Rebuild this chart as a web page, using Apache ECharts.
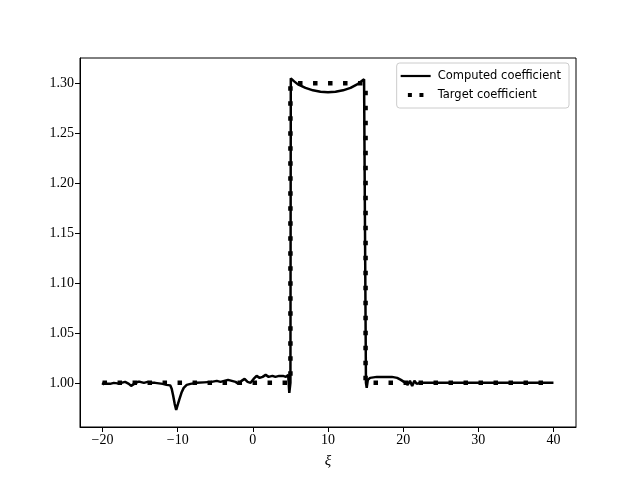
<!DOCTYPE html>
<html><head><meta charset="utf-8">
<script src="https://cdn.jsdelivr.net/npm/echarts@6/dist/echarts.min.js"></script>
<style>html,body{margin:0;padding:0;background:#fff}#c{width:640px;height:480px}</style>
</head><body><div id="c"></div>
<script>
const xTicks = [-20, -10, 0, 10, 20, 30, 40];
const yTicks = [1.00, 1.05, 1.10, 1.15, 1.20, 1.25, 1.30];
const computedXi = [-20,-19.8,-19.5,-19,-18.5,-18,-17.5,-17,-16.5,-16.2,-15.8,-15.3,-15,-14.5,-14,-13.5,-13,-12.5,-12,-11.5,-11,-10.8,-10.6,-10.4,-10.2,-10.0,-9.8,-9.5,-9.2,-8.8,-8.3,-7.5,-6.5,-5.5,-4.8,-4.3,-3.8,-3.3,-2.8,-2.3,-1.9,-1.5,-1.1,-0.7,-0.3,0.1,0.5,0.9,1.3,1.7,2.1,2.6,3.0,3.5,4.0,4.4,4.7,4.85,5.0,5.05,5.5,6,7,8,9,10,11,12,13,14,14.8,15.0,15.05,15.15,15.3,15.6,16.5,17.5,18.5,19.2,19.7,20.1,20.3,20.6,20.9,21.2,21.5,21.8,22.2,23,25,28,31,34,37,40];
const computedVal = [0.998,1.001,0.999,0.999,1.000,0.9995,1.000,1.001,0.999,0.997,0.999,1.001,1.001,1.000,1.001,1.000,1.000,0.9995,0.999,0.998,0.9975,0.994,0.987,0.979,0.973,0.975,0.983,0.990,0.995,0.998,0.999,1.000,1.0005,1.001,1.002,1.001,1.002,1.003,1.002,1.001,0.999,1.002,1.004,1.001,1.000,1.004,1.007,1.005,1.006,1.008,1.006,1.007,1.006,1.007,1.007,1.006,1.008,0.990,1.0,1.305,1.302,1.299,1.2955,1.293,1.2915,1.291,1.2915,1.293,1.2955,1.2995,1.304,1.306,1.0,0.995,1.003,1.005,1.006,1.006,1.006,1.005,1.003,1.001,1.003,0.998,1.002,0.997,1.002,0.999,1.000,1.000,1.000,1.000,1.000,1.000,1.000,1.000];
const targetXi = [-20, 5, 5, 15, 15, 40];
const targetVal = [1.0, 1.0, 1.3, 1.3, 1.0, 1.0];

const computed = computedXi.map((x, i) => [x, computedVal[i]]);
const target = targetXi.map((x, i) => [x, targetVal[i]]);

const chart = echarts.init(document.getElementById('c'), null, {renderer: 'canvas'});
const labelFont = {fontFamily: 'Liberation Serif', fontSize: 14, color: '#000'};
chart.setOption({
  animation: false,
  backgroundColor: '#fff',
  grid: {left: 80, right: 64, top: 58, bottom: 53, show: true, borderColor: '#000', borderWidth: 1, containLabel: false},
  xAxis: {
    type: 'value', min: -23, max: 43,
    name: 'ξ', nameLocation: 'middle', nameGap: 27,
    nameTextStyle: {fontFamily: 'Liberation Serif', fontStyle: 'italic', fontSize: 15, color: '#000'},
    splitLine: {show: false},
    axisLine: {show: true, onZero: false, lineStyle: {color: '#000', width: 1}},
    axisTick: {show: true, inside: false, length: 5, lineStyle: {color: '#000'}, customValues: xTicks},
    axisLabel: Object.assign({margin: 6, customValues: xTicks, formatter: v => (v < 0 ? '\u2212' + Math.abs(v) : String(v))}, labelFont)
  },
  yAxis: {
    type: 'value', min: 0.9558, max: 1.3254,
    splitLine: {show: false},
    axisLine: {show: true, onZero: false, lineStyle: {color: '#000', width: 1}},
    axisTick: {show: true, inside: false, length: 5, lineStyle: {color: '#000'}, customValues: yTicks},
    axisLabel: Object.assign({margin: 6, customValues: yTicks, formatter: v => v.toFixed(2)}, labelFont)
  },
  legend: {
    show: true, orient: 'vertical', right: 71, top: 63,
    padding: [7, 8, 7, 4], itemGap: 7, itemWidth: 30, itemHeight: 4,
    backgroundColor: '#fff', borderColor: '#cccccc', borderWidth: 1, borderRadius: 3,
    textStyle: {fontFamily: 'DejaVu Sans', fontSize: 11.5, color: '#000', padding: [0, 0, 0, 2]},
    data: [
      {name: 'Computed coefficient', icon: 'path://M0,0h30v2.2h-30z', itemStyle: {color: '#000'}},
      {name: 'Target coefficient', icon: 'path://M0,0h4.5v4.5h-4.5zM13,0h4.5v4.5h-4.5z', itemStyle: {color: '#000'}}
    ]
  },
  series: [
    {name: 'Computed coefficient', type: 'line', data: computed, showSymbol: false, symbol: 'none',
     lineStyle: {color: '#000', width: 2.5}, itemStyle: {color: '#000'}, z: 2},
    {name: 'Target coefficient', type: 'line', data: target, showSymbol: false, symbol: 'none',
     lineStyle: {color: '#000', width: 4.5, type: [4.5, 10.5], cap: 'butt'}, itemStyle: {color: '#000'}, z: 3}
  ]
});
</script></body></html>
